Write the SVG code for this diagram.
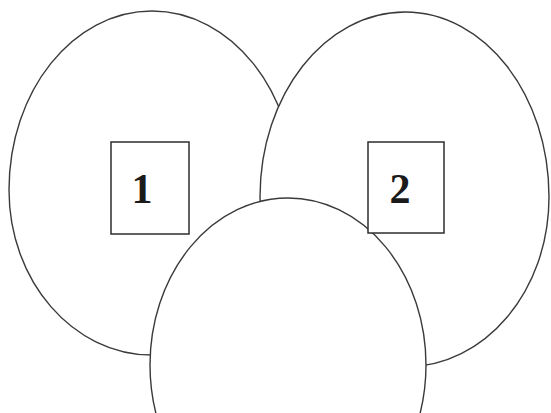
<svg xmlns="http://www.w3.org/2000/svg" width="551" height="413" viewBox="0 0 551 413">
<style>
.shape{fill:#ffffff;stroke:#3a3a3a;stroke-width:1.4}
.box{fill:#ffffff;stroke:#2e2e2e;stroke-width:1.5}
.lbl{font-family:"Liberation Serif","Times New Roman",serif;font-size:42px;font-weight:bold;fill:#1a1a1a;text-anchor:middle}
</style>
<rect width="551" height="413" fill="#ffffff"/>
<g id="circle-left"><path class="shape" d="M9,190 C9,91 73,11 152,11 C231,11 295,91 295,190 C295,281 231,355 152,355 C73,355 9,281 9,190Z"/></g>
<g id="circle-right"><path class="shape" d="M260,197 C260,95 325,12 405,12 C485,12 549,95 549,197 C549,291 485,367 405,367 C325,367 260,291 260,197Z"/></g>
<g id="circle-bottom"><ellipse class="shape" cx="288" cy="365" rx="138" ry="167"/></g>
<g id="node-1"><rect class="box" x="111" y="142" width="78" height="92"/><text class="lbl" x="142" y="203">1</text></g>
<g id="node-2"><rect class="box" x="368" y="142" width="76" height="91"/><text class="lbl" x="400" y="203">2</text></g>
<g id="connectors"></g>
</svg>
